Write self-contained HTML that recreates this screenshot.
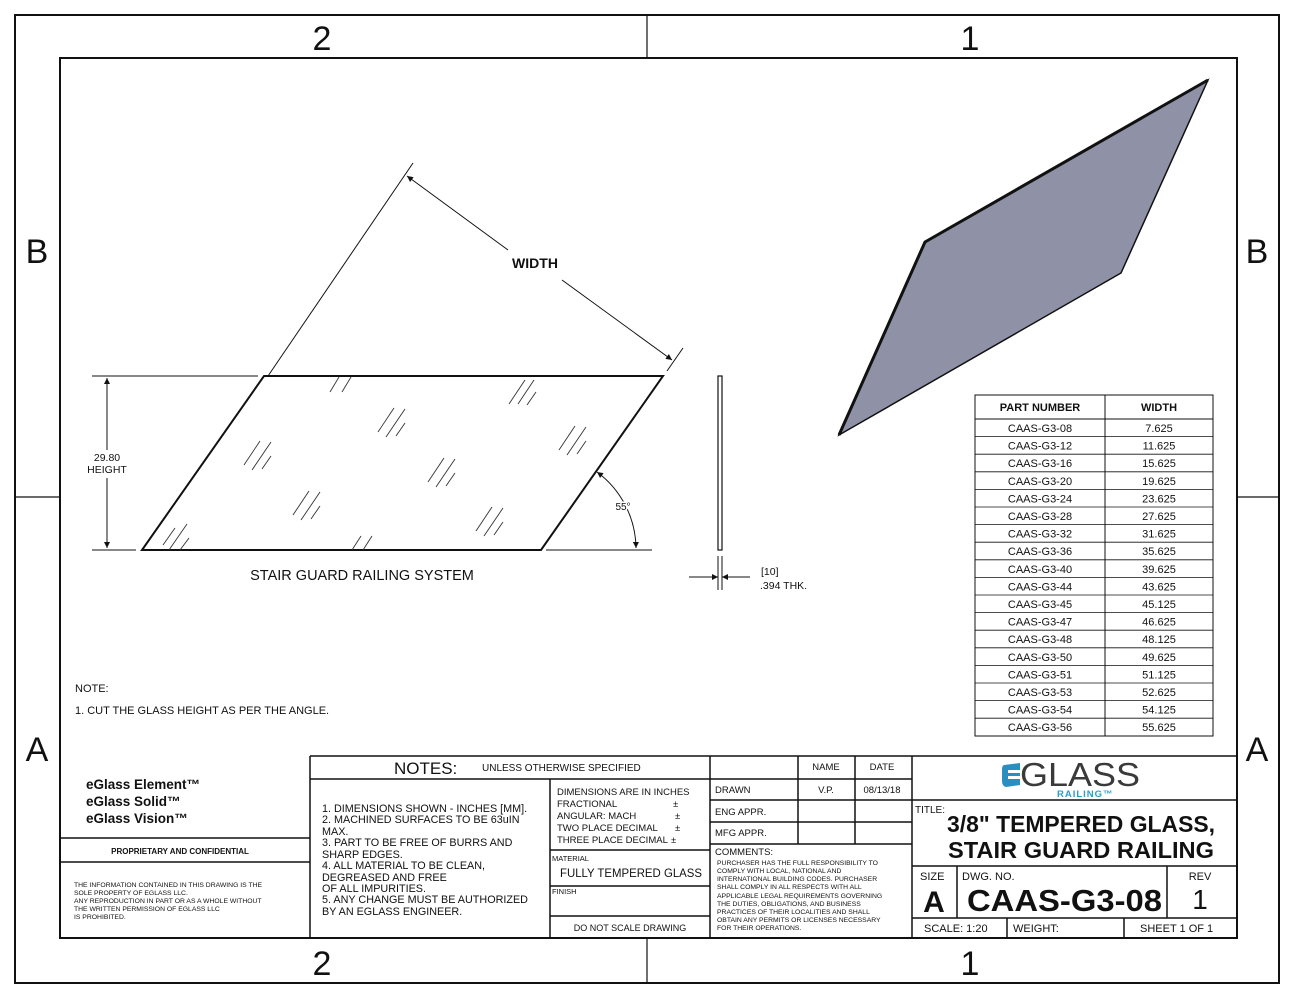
<!DOCTYPE html>
<html><head><meta charset="utf-8"><style>
html,body{margin:0;padding:0;background:#fff;}
svg{display:block;}
text{font-family:"Liberation Sans",sans-serif;fill:#111;}
</style></head><body>
<svg width="1294" height="1000" viewBox="0 0 1294 1000" xmlns="http://www.w3.org/2000/svg">
<defs>
<marker id="ar" viewBox="0 0 10 10" refX="10" refY="5" markerWidth="12" markerHeight="6" markerUnits="userSpaceOnUse" orient="auto-start-reverse"><path d="M0,0 L10,5 L0,10 z" fill="#111"/></marker>
</defs>
<rect x="15" y="15" width="1264" height="968" fill="none" stroke="#111" stroke-width="2"/>
<rect x="60" y="58" width="1177" height="880" fill="none" stroke="#111" stroke-width="2"/>
<g stroke="#111" stroke-width="1.2">
<line x1="647" y1="15" x2="647" y2="58"/><line x1="647" y1="938" x2="647" y2="983"/>
<line x1="15" y1="497" x2="60" y2="497"/><line x1="1237" y1="497" x2="1279" y2="497"/>
</g>
<g font-size="34" text-anchor="middle">
<text x="322" y="50">2</text><text x="970" y="50">1</text>
<text x="322" y="975">2</text><text x="970" y="975">1</text>
<text x="37" y="263">B</text><text x="1257" y="263">B</text>
<text x="37" y="761">A</text><text x="1257" y="761">A</text>
</g>

<polygon points="142,550 541,550 663,376 264,376" fill="none" stroke="#111" stroke-width="2"/>
<g stroke="#111" stroke-width="1" fill="none">
<line x1="268" y1="376" x2="413" y2="163"/>
<line x1="667" y1="371" x2="683" y2="348"/>
<line x1="407" y1="176" x2="508" y2="250" marker-start="url(#ar)"/>
<line x1="562" y1="280" x2="672" y2="360" marker-end="url(#ar)"/>
<line x1="92" y1="376" x2="258" y2="376"/>
<line x1="92" y1="550" x2="136" y2="550"/>
<line x1="107" y1="378" x2="107" y2="450" marker-start="url(#ar)"/>
<line x1="107" y1="478" x2="107" y2="548" marker-end="url(#ar)"/>
<line x1="546" y1="550" x2="652" y2="550"/>
<path d="M597,472 A96,96 0 0 1 636,548" marker-start="url(#ar)" marker-end="url(#ar)"/>
</g>
<text x="535" y="268" font-size="14" font-weight="bold" text-anchor="middle">WIDTH</text>
<text x="107" y="461" font-size="10.5" text-anchor="middle">29.80</text>
<text x="107" y="473" font-size="10.5" text-anchor="middle">HEIGHT</text>
<text x="623" y="510" font-size="10" text-anchor="middle" style="paint-order:stroke;stroke:#fff;stroke-width:3">55°</text>
<text x="362" y="580" font-size="14.5" text-anchor="middle">STAIR GUARD RAILING SYSTEM</text>

<g stroke="#333" stroke-width="0.9">
<g transform="translate(339,385)"><line x1="-9" y1="7" x2="0" y2="-8"/><line x1="3" y1="7" x2="12" y2="-8"/></g>
<g transform="translate(523,392)"><line x1="-14" y1="12" x2="2" y2="-12"/><line x1="-5" y1="12" x2="11" y2="-12"/><line x1="4" y1="13" x2="13" y2="0"/></g>
<g transform="translate(393,420)"><line x1="-15" y1="12" x2="1" y2="-12"/><line x1="-7" y1="17" x2="12" y2="-11"/><line x1="3" y1="16" x2="12" y2="3"/></g>
<g transform="translate(574,438)"><line x1="-15" y1="12" x2="1" y2="-12"/><line x1="-7" y1="17" x2="12" y2="-11"/><line x1="3" y1="16" x2="12" y2="3"/></g>
<g transform="translate(259,453)"><line x1="-15" y1="12" x2="1" y2="-12"/><line x1="-7" y1="17" x2="12" y2="-11"/><line x1="3" y1="16" x2="12" y2="3"/></g>
<g transform="translate(443,470)"><line x1="-15" y1="12" x2="1" y2="-12"/><line x1="-7" y1="17" x2="12" y2="-11"/><line x1="3" y1="16" x2="12" y2="3"/></g>
<g transform="translate(308,503)"><line x1="-15" y1="12" x2="1" y2="-12"/><line x1="-7" y1="17" x2="12" y2="-11"/><line x1="3" y1="16" x2="12" y2="3"/></g>
<g transform="translate(491,519)"><line x1="-15" y1="12" x2="1" y2="-12"/><line x1="-7" y1="17" x2="12" y2="-11"/><line x1="3" y1="16" x2="12" y2="3"/></g>
<g transform="translate(177,535)"><line x1="-14" y1="10" x2="-2" y2="-7"/><line x1="-8" y1="15" x2="10" y2="-11"/><line x1="3" y1="15" x2="12" y2="3"/></g>
<g transform="translate(361,543)"><line x1="-9" y1="7" x2="0" y2="-7"/><line x1="2" y1="7" x2="11" y2="-7"/></g>
</g>

<rect x="718" y="376" width="4" height="174" fill="none" stroke="#111" stroke-width="1.2"/>
<g stroke="#111" stroke-width="1" fill="none">
<line x1="718" y1="556" x2="718" y2="590"/><line x1="722" y1="556" x2="722" y2="590"/>
<line x1="689" y1="577" x2="718" y2="577" marker-end="url(#ar)"/>
<line x1="750" y1="577" x2="722" y2="577" marker-end="url(#ar)"/>
</g>
<text x="761" y="575" font-size="10.5">[10]</text>
<text x="760" y="589" font-size="10.5">.394 THK.</text>

<polygon points="1208,80 1121,273 839,435 925,242" fill="#8f92a6" stroke="#111" stroke-width="1.5"/>
<polyline points="839,435 925,242 1208,80" fill="none" stroke="#111" stroke-width="3"/>

<g stroke="#111" stroke-width="1" fill="none">
<rect x="975" y="395" width="238" height="341"/>
<line x1="1105" y1="395" x2="1105" y2="736"/>
<line x1="975" y1="419" x2="1213" y2="419"/>
</g>
<g stroke="#111" stroke-width="0.8">
<line x1="975" y1="436.6" x2="1213" y2="436.6"/><line x1="975" y1="454.2" x2="1213" y2="454.2"/><line x1="975" y1="471.8" x2="1213" y2="471.8"/><line x1="975" y1="489.4" x2="1213" y2="489.4"/><line x1="975" y1="507" x2="1213" y2="507"/><line x1="975" y1="524.6" x2="1213" y2="524.6"/><line x1="975" y1="542.2" x2="1213" y2="542.2"/><line x1="975" y1="559.8" x2="1213" y2="559.8"/><line x1="975" y1="577.4" x2="1213" y2="577.4"/><line x1="975" y1="595" x2="1213" y2="595"/><line x1="975" y1="612.6" x2="1213" y2="612.6"/><line x1="975" y1="630.2" x2="1213" y2="630.2"/><line x1="975" y1="647.8" x2="1213" y2="647.8"/><line x1="975" y1="665.4" x2="1213" y2="665.4"/><line x1="975" y1="683" x2="1213" y2="683"/><line x1="975" y1="700.6" x2="1213" y2="700.6"/><line x1="975" y1="718.2" x2="1213" y2="718.2"/>
</g>
<g font-size="11" text-anchor="middle">
<text x="1040" y="411" font-weight="bold">PART NUMBER</text><text x="1159" y="411" font-weight="bold">WIDTH</text>
<text x="1040" y="432">CAAS-G3-08</text><text x="1159" y="432">7.625</text>
<text x="1040" y="449.6">CAAS-G3-12</text><text x="1159" y="449.6">11.625</text>
<text x="1040" y="467.2">CAAS-G3-16</text><text x="1159" y="467.2">15.625</text>
<text x="1040" y="484.8">CAAS-G3-20</text><text x="1159" y="484.8">19.625</text>
<text x="1040" y="502.4">CAAS-G3-24</text><text x="1159" y="502.4">23.625</text>
<text x="1040" y="520">CAAS-G3-28</text><text x="1159" y="520">27.625</text>
<text x="1040" y="537.6">CAAS-G3-32</text><text x="1159" y="537.6">31.625</text>
<text x="1040" y="555.2">CAAS-G3-36</text><text x="1159" y="555.2">35.625</text>
<text x="1040" y="572.8">CAAS-G3-40</text><text x="1159" y="572.8">39.625</text>
<text x="1040" y="590.4">CAAS-G3-44</text><text x="1159" y="590.4">43.625</text>
<text x="1040" y="608">CAAS-G3-45</text><text x="1159" y="608">45.125</text>
<text x="1040" y="625.6">CAAS-G3-47</text><text x="1159" y="625.6">46.625</text>
<text x="1040" y="643.2">CAAS-G3-48</text><text x="1159" y="643.2">48.125</text>
<text x="1040" y="660.8">CAAS-G3-50</text><text x="1159" y="660.8">49.625</text>
<text x="1040" y="678.4">CAAS-G3-51</text><text x="1159" y="678.4">51.125</text>
<text x="1040" y="696">CAAS-G3-53</text><text x="1159" y="696">52.625</text>
<text x="1040" y="713.6">CAAS-G3-54</text><text x="1159" y="713.6">54.125</text>
<text x="1040" y="731.2">CAAS-G3-56</text><text x="1159" y="731.2">55.625</text>
</g>

<text x="75" y="692" font-size="11">NOTE:</text>
<text x="75" y="714" font-size="11">1.  CUT THE GLASS HEIGHT AS PER THE ANGLE.</text>

<g stroke="#111" stroke-width="1.5" fill="none">
<line x1="310" y1="756" x2="1237" y2="756"/>
<line x1="310" y1="756" x2="310" y2="938"/>
<line x1="60" y1="838" x2="310" y2="838"/>
<line x1="60" y1="862" x2="310" y2="862"/>
<line x1="310" y1="779" x2="710" y2="779"/>
<line x1="550" y1="779" x2="550" y2="938"/>
<line x1="550" y1="850" x2="710" y2="850"/>
<line x1="550" y1="886" x2="710" y2="886"/>
<line x1="550" y1="916" x2="710" y2="916"/>
<line x1="710" y1="756" x2="710" y2="938"/>
<line x1="710" y1="779" x2="912" y2="779"/>
<line x1="710" y1="800" x2="912" y2="800"/>
<line x1="710" y1="822" x2="912" y2="822"/>
<line x1="710" y1="844" x2="912" y2="844"/>
<line x1="798" y1="756" x2="798" y2="844"/>
<line x1="855" y1="756" x2="855" y2="844"/>
<line x1="912" y1="756" x2="912" y2="938"/>
<line x1="912" y1="800" x2="1237" y2="800"/>
<line x1="912" y1="866" x2="1237" y2="866"/>
<line x1="912" y1="918" x2="1237" y2="918"/>
<line x1="957" y1="866" x2="957" y2="918"/>
<line x1="1167" y1="866" x2="1167" y2="918"/>
<line x1="1007" y1="918" x2="1007" y2="938"/>
<line x1="1124" y1="918" x2="1124" y2="938"/>
</g>

<g font-size="13.5" font-weight="bold">
<text x="86" y="789">eGlass Element™</text>
<text x="86" y="806">eGlass Solid™</text>
<text x="86" y="823">eGlass Vision™</text>
</g>
<text x="180" y="854" font-size="8" font-weight="bold" text-anchor="middle">PROPRIETARY AND CONFIDENTIAL</text>
<g font-size="6.8">
<text x="74" y="887">THE INFORMATION CONTAINED IN THIS DRAWING IS THE</text>
<text x="74" y="895">SOLE PROPERTY OF EGLASS LLC.</text>
<text x="74" y="903">ANY REPRODUCTION IN PART OR AS A WHOLE WITHOUT</text>
<text x="74" y="911">THE WRITTEN PERMISSION OF EGLASS LLC</text>
<text x="74" y="919">IS PROHIBITED.</text>
</g>

<text x="394" y="774" font-size="17">NOTES:</text>
<text x="482" y="771" font-size="10">UNLESS OTHERWISE SPECIFIED</text>
<g font-size="10.8">
<text x="322" y="812">1. DIMENSIONS SHOWN - INCHES [MM].</text>
<text x="322" y="823">2. MACHINED SURFACES TO BE 63uIN</text>
<text x="322" y="835">MAX.</text>
<text x="322" y="846">3. PART TO BE FREE OF BURRS AND</text>
<text x="322" y="858">SHARP EDGES.</text>
<text x="322" y="869">4. ALL MATERIAL TO BE CLEAN,</text>
<text x="322" y="881">DEGREASED AND FREE</text>
<text x="322" y="892">OF ALL IMPURITIES.</text>
<text x="322" y="903">5. ANY CHANGE MUST BE AUTHORIZED</text>
<text x="322" y="915">BY AN EGLASS ENGINEER.</text>
</g>
<g font-size="9.5">
<text x="557" y="795">DIMENSIONS ARE IN INCHES</text>
<text x="557" y="807">FRACTIONAL</text><text x="673" y="807">±</text>
<text x="557" y="819">ANGULAR: MACH</text><text x="675" y="819">±</text>
<text x="557" y="831">TWO PLACE DECIMAL</text><text x="675" y="831">±</text>
<text x="557" y="843">THREE PLACE DECIMAL</text><text x="671" y="843">±</text>
</g>
<text x="552" y="861" font-size="7.5">MATERIAL</text>
<text x="560" y="877" font-size="11.5" textLength="142" lengthAdjust="spacingAndGlyphs">FULLY TEMPERED GLASS</text>
<text x="552" y="894" font-size="7.5">FINISH</text>
<text x="630" y="931" font-size="9" text-anchor="middle">DO NOT SCALE DRAWING</text>

<g font-size="9.5">
<text x="826" y="770" text-anchor="middle">NAME</text>
<text x="882" y="770" text-anchor="middle">DATE</text>
<text x="715" y="793">DRAWN</text>
<text x="826" y="793" text-anchor="middle">V.P.</text>
<text x="882" y="793" text-anchor="middle">08/13/18</text>
<text x="715" y="815">ENG APPR.</text>
<text x="715" y="836">MFG APPR.</text>
<text x="715" y="855">COMMENTS:</text>
</g>
<g font-size="6.8">
<text x="717" y="865">PURCHASER HAS THE FULL RESPONSIBILITY TO</text>
<text x="717" y="873">COMPLY WITH LOCAL, NATIONAL AND</text>
<text x="717" y="881">INTERNATIONAL BUILDING CODES. PURCHASER</text>
<text x="717" y="889">SHALL COMPLY IN ALL RESPECTS WITH ALL</text>
<text x="717" y="898">APPLICABLE LEGAL REQUIREMENTS GOVERNING</text>
<text x="717" y="906">THE DUTIES, OBLIGATIONS, AND BUSINESS</text>
<text x="717" y="914">PRACTICES OF THEIR LOCALITIES AND SHALL</text>
<text x="717" y="922">OBTAIN ANY PERMITS OR LICENSES NECESSARY</text>
<text x="717" y="930">FOR THEIR OPERATIONS.</text>
</g>

<path d="M1004,765 L1020,763 L1020,785 L1006,787 Q1002,786 1002,781 L1002,769 Q1002,766 1004,765 z" fill="#2a8fc0"/>
<rect x="1008" y="770" width="12" height="3" fill="#fff"/>
<rect x="1008" y="776" width="12" height="3" fill="#fff"/>
<text x="1020" y="786" font-size="33" style="fill:#3a3a3a" textLength="120" lengthAdjust="spacingAndGlyphs">GLASS</text>
<text x="1057" y="797" font-size="9.5" font-weight="bold" style="fill:#2a9fc8" letter-spacing="1">RAILING™</text>

<text x="915" y="813" font-size="10">TITLE:</text>
<text x="947" y="832" font-size="23" font-weight="bold" textLength="268" lengthAdjust="spacingAndGlyphs">3/8" TEMPERED GLASS,</text>
<text x="948" y="858" font-size="23" font-weight="bold" textLength="266" lengthAdjust="spacingAndGlyphs">STAIR GUARD RAILING</text>
<text x="920" y="880" font-size="11">SIZE</text>
<text x="934" y="912" font-size="30" font-weight="bold" text-anchor="middle">A</text>
<text x="962" y="880" font-size="11">DWG.  NO.</text>
<text x="967" y="911" font-size="31" font-weight="bold" textLength="195" lengthAdjust="spacingAndGlyphs">CAAS-G3-08</text>
<text x="1200" y="880" font-size="11" text-anchor="middle">REV</text>
<text x="1200" y="909" font-size="28" text-anchor="middle">1</text>
<text x="924" y="932" font-size="11">SCALE: 1:20</text>
<text x="1013" y="932" font-size="11">WEIGHT:</text>
<text x="1140" y="932" font-size="11">SHEET 1 OF 1</text>
</svg>
</body></html>
